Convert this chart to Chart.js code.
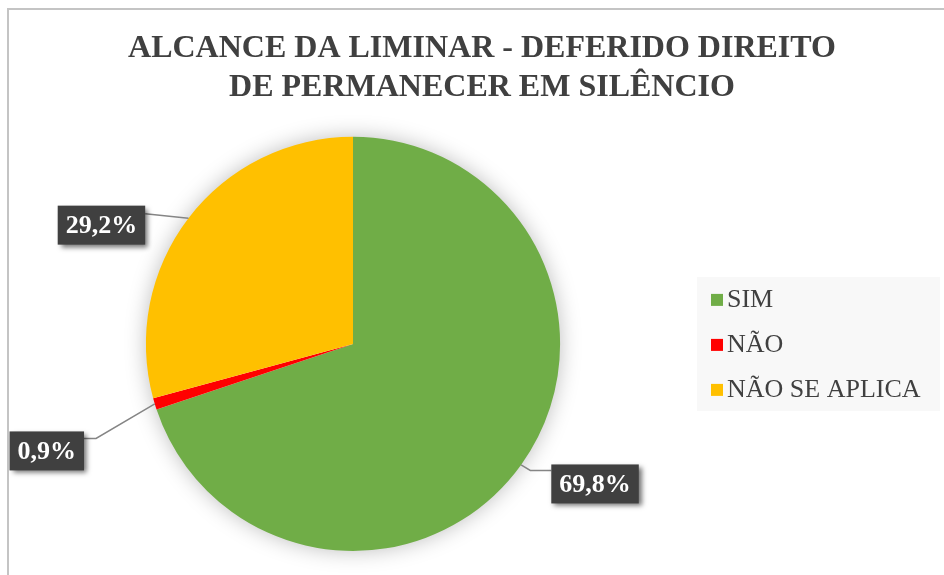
<!DOCTYPE html>
<html>
<head>
<meta charset="utf-8">
<script src="https://cdn.jsdelivr.net/npm/chart.js@4"></script>
<style>
html, body { margin: 0; padding: 0; background: #fff; overflow: hidden; }
#frame { position: absolute; left: 7px; top: 8px; width: 960px; height: 600px; border-top: 2px solid #c4c4c4; border-left: 2px solid #c4c4c4; }
#wrap { position: absolute; left: 0; top: 0; width: 944px; height: 575px; }
</style>
</head>
<body>
<div id="frame"></div>
<div id="wrap"><canvas id="pieChart"></canvas></div>
<script>
const categories = ["SIM", "NÃO", "NÃO SE APLICA"];
const percentages = [69.8, 0.9, 29.2];
const sliceColors = ["#70AD47", "#FF0000", "#FFC000"];
const titleLines = ["ALCANCE DA LIMINAR - DEFERIDO DIREITO", "DE PERMANECER EM SILÊNCIO"];

const serif = "'Liberation Serif', 'Times New Roman', serif";

// legend as its own layout box on the right, so the title still spans the full width
const sideLegend = {
    id: "sideLegend",
    beforeInit(chart) {
        const box = {
            position: "right",
            weight: 0,
            fullSize: false,
            options: {},
            width: 0, height: 0, left: 0, top: 0, right: 0, bottom: 0,
            isHorizontal() { return false; },
            update(maxWidth, maxHeight) {
                this.width = 258;
                this.height = maxHeight;
            },
            draw() {
                const ctx = chart.ctx;
                const area = chart.chartArea;
                const cy = (area.top + area.bottom) / 2;
                const x0 = this.left + 11;
                const labels = chart.data.labels;
                const colors = chart.data.datasets[0].backgroundColor;
                ctx.save();
                ctx.fillStyle = "#f8f8f8";
                ctx.fillRect(x0, cy - 67, 243, 134);
                ctx.font = "26px " + serif;
                ctx.textBaseline = "middle";
                ctx.textAlign = "left";
                labels.forEach((lab, i) => {
                    const y = cy + (i - 1) * 45;
                    ctx.fillStyle = colors[i];
                    ctx.fillRect(x0 + 14, y - 5, 12, 12);
                    ctx.fillStyle = "#404040";
                    ctx.fillText(lab, x0 + 30, y + 1);
                });
                ctx.restore();
            }
        };
        box._layers = () => [{ z: 0, draw: () => box.draw() }];
        Chart.layouts.addBox(chart, box);
    }
};

const pieShadow = {
    id: "pieShadow",
    beforeDatasetsDraw(chart) {
        const arc = chart.getDatasetMeta(0).data[0];
        if (!arc) return;
        const ctx = chart.ctx;
        ctx.save();
        ctx.shadowColor = "rgba(0,0,0,0.28)";
        ctx.shadowBlur = 22;
        ctx.fillStyle = "#fff";
        ctx.beginPath();
        ctx.arc(arc.x, arc.y, arc.outerRadius - 1, 0, Math.PI * 2);
        ctx.fill();
        ctx.restore();
    }
};

// label boxes with leader lines, placed relative to each slice's outer edge
const calloutStyle = [
    { dx: 74, dy: 19, side: "left", ay: 6, elbow: 21 },
    { dx: -108, dy: 47, side: "right", ay: 7, elbow: 12 },
    { dx: -87, dy: 7, side: "right", ay: 8, elbow: 0 }
];

const callouts = {
    id: "callouts",
    afterDatasetsDraw(chart) {
        const ctx = chart.ctx;
        const meta = chart.getDatasetMeta(0);
        ctx.save();
        ctx.font = "bold 26px " + serif;
        meta.data.forEach((arc, i) => {
            const st = calloutStyle[i];
            const mid = (arc.startAngle + arc.endAngle) / 2;
            const ex = arc.x + Math.cos(mid) * arc.outerRadius;
            const ey = arc.y + Math.sin(mid) * arc.outerRadius;
            const text = percentages[i].toFixed(1).replace(".", ",") + "%";
            const w = ctx.measureText(text).width + 16;
            const h = 39;
            const cx = ex + st.dx, cy = ey + st.dy;
            const left = cx - w / 2, top = cy - h / 2;

            // leader line
            const ax = st.side === "left" ? left : left + w;
            const ay = top + st.ay;
            const bx = st.side === "left" ? ax - st.elbow : ax + st.elbow;
            ctx.strokeStyle = "#858585";
            ctx.lineWidth = 1.5;
            ctx.beginPath();
            ctx.moveTo(ex, ey);
            ctx.lineTo(bx, ay);
            ctx.lineTo(ax, ay);
            ctx.stroke();

            // box with shadow
            ctx.save();
            ctx.shadowColor = "rgba(0,0,0,0.55)";
            ctx.shadowBlur = 5;
            ctx.shadowOffsetX = 3;
            ctx.shadowOffsetY = 3;
            ctx.fillStyle = "#404040";
            ctx.fillRect(left, top, w, h);
            ctx.restore();

            ctx.fillStyle = "#ffffff";
            ctx.textAlign = "center";
            ctx.textBaseline = "middle";
            ctx.fillText(text, cx, cy + 1);
        });
        ctx.restore();
    }
};

new Chart(document.getElementById("pieChart").getContext("2d"), {
    type: "pie",
    data: {
        labels: categories,
        datasets: [{
            data: percentages,
            backgroundColor: sliceColors,
            borderWidth: 0
        }]
    },
    options: {
        responsive: true,
        maintainAspectRatio: false,
        animation: false,
        events: [],
        layout: { padding: { left: 20, right: 0, top: 0, bottom: 24 } },
        plugins: {
            title: {
                display: true,
                text: titleLines,
                color: "#404040",
                font: { family: serif, size: 32, weight: "bold", lineHeight: 1.2 },
                padding: { top: 30, bottom: 30 }
            },
            legend: { display: false },
            tooltip: { enabled: false }
        }
    },
    plugins: [sideLegend, pieShadow, callouts]
});
</script>
</body>
</html>
